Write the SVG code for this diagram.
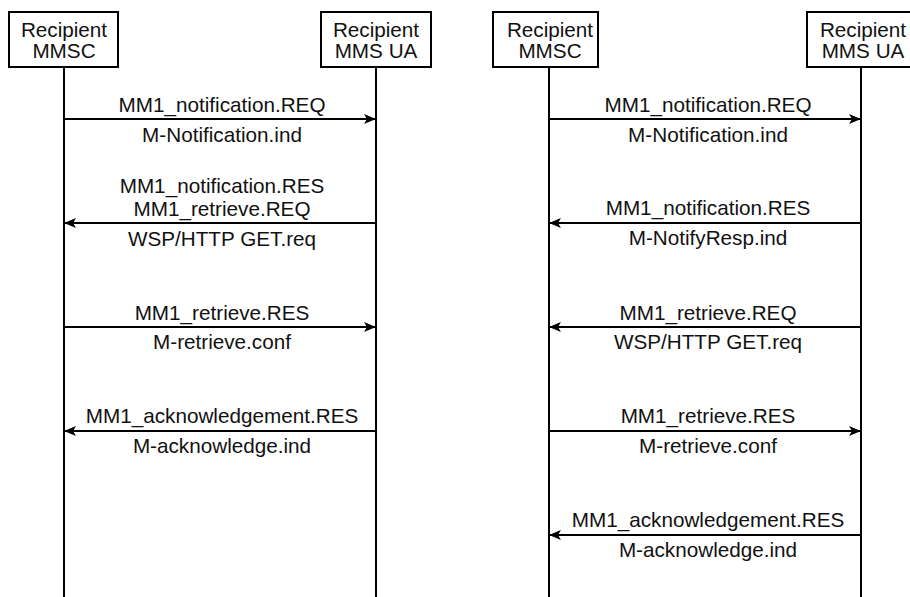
<svg xmlns="http://www.w3.org/2000/svg" width="910" height="597" viewBox="0 0 910 597">
  <style>
    .box { fill: #ffffff; stroke: #000000; stroke-width: 2; }
    .life { stroke: #000000; stroke-width: 2; fill: none; }
    .msg { stroke: #000000; stroke-width: 2; fill: none; }
    .fwd { marker-end: url(#head); }
    text { font-family: "Liberation Sans", Arial, Helvetica, sans-serif; font-size: 20.7px; fill: #111111; text-anchor: middle; }
  </style>
  <defs>
    <marker id="head" viewBox="0 0 12 10" refX="11" refY="5" markerWidth="12" markerHeight="10" markerUnits="userSpaceOnUse" orient="auto">
      <path d="M0,0 L12,5 L0,10 L3,5 Z" fill="#000000"/>
    </marker>
  </defs>
  <rect width="910" height="597" fill="#ffffff"/>

  <!-- Left flow: combined notification response and retrieve request -->
  <g id="left-mmsc">
    <line class="life" x1="64" y1="67" x2="64" y2="597"/>
    <rect class="box" x="9" y="12" width="109" height="55"/>
    <text x="64" y="37">Recipient</text>
    <text x="64" y="58">MMSC</text>
  </g>
  <g id="left-ua">
    <line class="life" x1="376" y1="67" x2="376" y2="597"/>
    <rect class="box" x="321" y="12" width="110" height="55"/>
    <text x="376" y="37">Recipient</text>
    <text x="376" y="58">MMS UA</text>
  </g>

  <!-- Right flow: separate notification response and retrieve request -->
  <g id="right-mmsc">
    <line class="life" x1="549" y1="67" x2="549" y2="597"/>
    <rect class="box" x="493" y="12" width="105" height="55"/>
    <text x="550" y="37">Recipient</text>
    <text x="550" y="58">MMSC</text>
  </g>
  <g id="right-ua">
    <line class="life" x1="861" y1="67" x2="861" y2="597"/>
    <rect class="box" x="807" y="12" width="110" height="55"/>
    <text x="863" y="37">Recipient</text>
    <text x="863" y="58">MMS UA</text>
  </g>

  <g id="connectors">
    <!-- left flow -->
    <line class="msg fwd" x1="64" y1="119" x2="375" y2="119"/>
    <line class="msg fwd" x1="376" y1="223" x2="65" y2="223"/>
    <line class="msg fwd" x1="64" y1="327" x2="375" y2="327"/>
    <line class="msg fwd" x1="376" y1="431" x2="65" y2="431"/>
    <!-- right flow -->
    <line class="msg fwd" x1="549" y1="119" x2="860" y2="119"/>
    <line class="msg fwd" x1="861" y1="223" x2="550" y2="223"/>
    <line class="msg fwd" x1="861" y1="327" x2="550" y2="327"/>
    <line class="msg fwd" x1="549" y1="431" x2="860" y2="431"/>
    <line class="msg fwd" x1="861" y1="535" x2="550" y2="535"/>
  </g>

  <g id="labels">
    <!-- left flow -->
    <text x="222" y="112">MM1_notification.REQ</text>
    <text x="222" y="142">M-Notification.ind</text>
    <text x="222" y="193">MM1_notification.RES</text>
    <text x="222" y="216">MM1_retrieve.REQ</text>
    <text x="222" y="246">WSP/HTTP GET.req</text>
    <text x="222" y="320">MM1_retrieve.RES</text>
    <text x="222" y="349">M-retrieve.conf</text>
    <text x="222" y="423">MM1_acknowledgement.RES</text>
    <text x="222" y="453">M-acknowledge.ind</text>
    <!-- right flow -->
    <text x="708" y="112">MM1_notification.REQ</text>
    <text x="708" y="142">M-Notification.ind</text>
    <text x="708" y="215">MM1_notification.RES</text>
    <text x="708" y="245">M-NotifyResp.ind</text>
    <text x="708" y="320">MM1_retrieve.REQ</text>
    <text x="708" y="349">WSP/HTTP GET.req</text>
    <text x="708" y="423">MM1_retrieve.RES</text>
    <text x="708" y="453">M-retrieve.conf</text>
    <text x="708" y="527">MM1_acknowledgement.RES</text>
    <text x="708" y="557">M-acknowledge.ind</text>
  </g>
</svg>
